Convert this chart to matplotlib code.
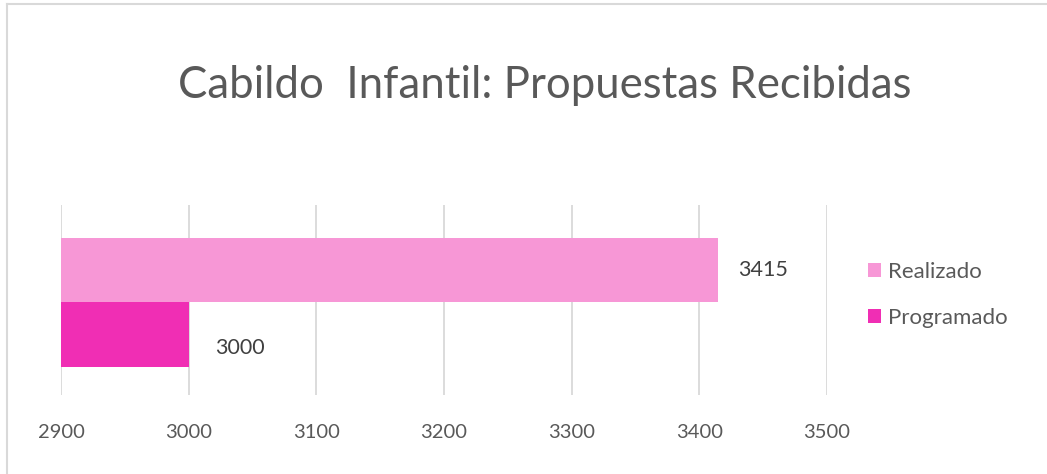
import matplotlib.pyplot as plt
from matplotlib.lines import Line2D
from matplotlib.patches import Patch

series = ["Realizado", "Programado"]
values = [3415, 3000]
colors = ["#F797D6", "#F02EB4"]
ticks = [2900, 3000, 3100, 3200, 3300, 3400, 3500]
title = "Cabildo  Infantil: Propuestas Recibidas"

plt.rcParams['font.family'] = ['Lato', 'DejaVu Sans']
txt = "#595959"

fig = plt.figure(figsize=(10.47, 4.74), dpi=100)
ax = fig.add_axes([61 / 1047, 1 - 395 / 474, (827 - 61) / 1047, 190 / 474])

offsets = [0.158, -0.182]
label_shift = [(14, 0), (19, -10)]
for name, v, c, off, sh in zip(series, values, colors, offsets, label_shift):
    ax.barh(off, v - ticks[0], left=ticks[0], height=0.34, color=c, label=name, zorder=2)
    ax.annotate(str(v), (v, off), xytext=sh, textcoords="offset points",
                va="center", ha="left", fontsize=15.5, color="#404040")

ax.set_xlim(ticks[0], ticks[-1])
ax.set_ylim(-0.5, 0.5)
ax.set_xticks(ticks)
ax.set_xticklabels([str(t) for t in ticks], fontsize=14.5, color=txt)
ax.set_yticks([])
ax.tick_params(axis="x", length=0, pad=21)
ax.grid(axis="x", color="#D9D9D9", linewidth=1.3, zorder=0)
for s in ax.spines.values():
    s.set_visible(False)

fig.text(0.520, 1 - 86 / 474, title, ha="center", va="center", fontsize=31.5, color=txt)

handles = [Patch(facecolor=c, edgecolor="none") for c in colors]
fig.legend(handles, series, loc="center left", bbox_to_anchor=(848 / 1047, 1 - 295 / 474),
           frameon=False, fontsize=16, labelcolor=txt, handlelength=0.6, handleheight=0.6,
           handletextpad=0.3, labelspacing=1.15)

# chart frame (left and top edges)
fig.add_artist(Line2D([7 / 1047, 7 / 1047], [0, 1 - 4 / 474], color="#D9D9D9", linewidth=1.5))
fig.add_artist(Line2D([7 / 1047, 1], [1 - 4 / 474, 1 - 4 / 474], color="#D9D9D9", linewidth=1.5))

fig.savefig("out.png", dpi=100)
